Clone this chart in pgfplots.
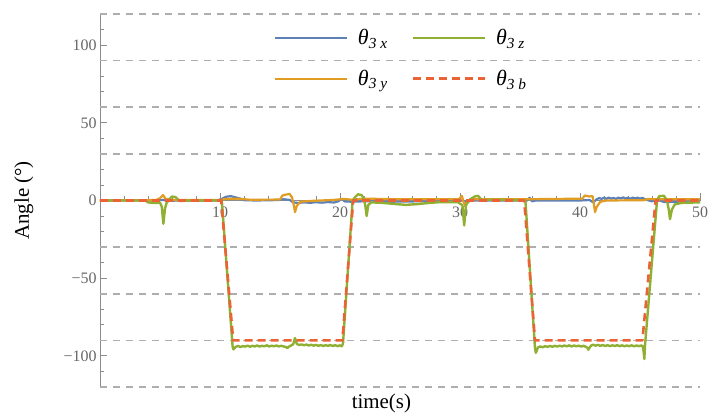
\documentclass[border=0pt]{standalone}
\usepackage{fontspec}
\setmainfont{Liberation Serif}
\usepackage{pgfplots}
\pgfplotsset{compat=1.18}
\definecolor{cx}{HTML}{5E81B5}
\definecolor{cy}{HTML}{E19C24}
\definecolor{cz}{HTML}{8FB032}
\definecolor{cb}{HTML}{EB6235}
\definecolor{axisgray}{HTML}{8C8C8C}
\definecolor{gridgray}{HTML}{AEAEAE}
\definecolor{labelgray}{HTML}{666666}
\begin{document}
\begin{tikzpicture}
\begin{axis}[
  scale only axis, width=600bp, height=373bp,
  xmin=0, xmax=50, ymin=-120, ymax=120,
  axis x line*=middle, axis y line*=left,
  axis line style={draw=axisgray, line width=0.9bp},
  every tick/.style={draw=axisgray, line width=0.9bp},
  tick align=inside,
  major tick length=7bp, minor tick length=4bp,
  xtick={10,20,30,40,50}, xticklabels={10,20,30,40,50},
  minor xtick={2,4,...,48},
  ytick={-100,-50,0,50,100}, yticklabels={−100,−50,0,50,100},
  minor ytick={-120,-110,...,120},
  extra y ticks={-120,-90,-60,-30,30,60,90,120},
  extra y tick labels={},
  extra y tick style={grid=major, major tick length=0pt,
    major grid style={gridgray, line width=1.6bp, dash pattern=on 7bp off 6bp}},
  ticklabel style={font=\fontsize{16}{16}\selectfont, text=labelgray},
  x tick label style={yshift=-3bp},
  every axis y label/.style={at={(axis description cs:-0.127,0.5)}, anchor=center, rotate=90, font=\fontsize{21}{21}\selectfont},
  every axis x label/.style={at={(axis description cs:0.469,-0.043)}, anchor=center, font=\fontsize{21}{21}\selectfont},
  ylabel={Angle (°)},
  xlabel={time(s)},
  legend columns=2,
  legend cell align=left,
  legend style={draw=none, fill=none, at={(axis description cs:0.502,0.881)}, anchor=center,
    font=\fontsize{22}{22}\selectfont, row sep=20bp,
    /tikz/every even column/.append style={column sep=22bp}},
  legend image code/.code={\draw[#1] (0bp,0bp) -- (72bp,0bp);},
  line join=round,
]
% theta_3x
\addplot[cx, line width=2.2bp, forget plot] coordinates {
(0,0) (3,0.2) (4.5,0) (5.3,0.4) (5.6,-0.3) (6.5,0) (9.8,0) (10.2,1.2) (10.5,2.4) (10.9,2.8) (11.3,2.0) (11.7,1.2) (12,0.2) (13,0)
(14.9,0.3) (15.3,0.8) (15.8,0.4) (16.1,-1.2) (16.5,-1.6) (17,-1.2) (17.5,-1.5) (18,-1.1) (18.5,-1.4) (19,-1.0) (19.5,-1.3)
(19.9,-0.4) (20.1,1.2) (20.4,-0.6) (21,-0.8) (22,-0.5) (24,-0.8) (26,-0.6) (28,-0.3) (30.2,0) (30.5,-1) (31,0) (35.6,0)
(35.8,1.8) (36,-0.5) (36.3,0) (40,0) (40.8,0.3) (41.1,-1.2) (41.4,0.8) (41.6,1.6) (41.8,1.0) (42.0,1.8) (42.2,1.1) (42.4,1.9)
(42.6,1.2) (42.8,1.7) (43.0,1.0) (43.2,1.9) (43.4,1.3) (43.6,2.0) (43.8,1.2) (44.0,1.8) (44.2,1.1) (44.4,1.9) (44.6,1.3)
(44.8,1.8) (45.0,1.2) (45.2,1.7) (45.5,0.5) (46,-0.5) (46.5,0.5) (47,-1) (48,-0.8) (50,-0.8)
};
% theta_3y
\addplot[cy, line width=2.2bp, forget plot] coordinates {
(0,0) (4.7,0.3) (5.0,1.5) (5.25,3.5) (5.45,1.2) (5.8,0.6) (6.5,0.3) (10,0.3) (10.5,1.0) (11.5,1.2) (12.5,0.5) (15.0,0.6)
(15.2,3.2) (15.5,3.8) (15.8,4.2) (16.0,2.0) (16.15,-3) (16.25,-7.5) (16.4,-3.5) (16.7,-0.8) (17.5,-0.3) (19.5,0.4) (20.3,1.0)
(21,0.5) (22,1.2) (25,0.8) (29.9,0.8) (30.15,3.0) (30.3,-1) (30.45,-3.5) (30.6,-0.5) (31,0.8) (35,0.8) (38,1.0) (40.2,1.2)
(40.4,3.2) (40.8,2.6) (41.05,2.8) (41.15,-2) (41.25,-7.5) (41.4,-4) (41.7,-0.8) (42.2,0) (45.3,0.2) (45.7,1.0) (46.2,0.8) (50,0.8)
};
% theta_3z
\addplot[cz, line width=2.4bp, forget plot] coordinates {
(0,0) (3.8,0) (4.0,-1.2) (4.5,-1.6) (5.0,-1.4) (5.15,-4) (5.28,-15) (5.42,-5) (5.55,-1.5) (5.8,1) (6.0,2.6) (6.3,2.2) (6.6,-0.3)
(7.5,0) (10.15,0) (11.05,-94) (11.12,-95.8)
(11.3,-94.2) (11.5,-93.6) (11.7,-94.3) (11.9,-93.7) (12.1,-94.0) (12.3,-93.4) (12.5,-94.1) (12.7,-93.5) (12.9,-93.9) (13.1,-93.3)
(13.3,-94.0) (13.5,-93.5) (13.7,-93.8) (13.9,-93.2) (14.1,-93.9) (14.3,-93.4) (14.5,-93.8) (14.7,-93.3) (14.9,-93.9) (15.1,-93.5)
(15.3,-93.9) (15.5,-94.3) (15.6,-95.0) (15.7,-94.2) (15.9,-93.4) (16.1,-92.5) (16.25,-88.5) (16.4,-92.3) (16.6,-93.0) (16.8,-92.6)
(17.0,-93.1) (17.2,-92.7) (17.4,-93.3) (17.6,-92.8) (17.8,-93.4) (18.0,-92.9) (18.2,-93.5) (18.4,-93.0) (18.6,-93.6) (18.8,-93.1)
(19.0,-93.5) (19.2,-93.0) (19.4,-93.6) (19.6,-93.1) (19.8,-93.7) (20.0,-93.2) (20.15,-93.8)
(20.25,-92) (21.05,0) (21.3,2.5) (21.5,4) (21.8,3.5) (22.0,1) (22.12,-4) (22.22,-10) (22.35,-3) (22.6,-1.2) (23.5,-1.5)
(24.5,-2.2) (25.5,-2.8) (26.5,-2.3) (27.5,-1.5) (28.5,-1) (29.8,-1) (30.2,-3) (30.35,-16) (30.5,-3) (30.8,0.5) (31.2,2.5)
(31.5,3) (31.8,0.5) (33,0.5) (35.45,0) (36.25,-95) (36.32,-98)
(36.5,-94.5) (36.7,-93.9) (36.9,-94.4) (37.1,-93.7) (37.3,-94.2) (37.5,-93.6) (37.7,-94.1) (37.9,-93.5) (38.1,-94.0) (38.3,-93.4)
(38.5,-93.9) (38.7,-93.3) (38.9,-93.8) (39.1,-93.2) (39.3,-93.9) (39.5,-93.3) (39.7,-93.8) (39.9,-93.4) (40.1,-94.0) (40.3,-93.5)
(40.5,-94.2) (40.62,-94.8) (40.7,-96.0) (40.8,-94.6) (40.95,-93.2) (41.1,-92.8) (41.3,-93.4) (41.5,-92.9) (41.7,-93.5) (41.9,-93.0)
(42.1,-93.6) (42.3,-93.1) (42.5,-93.7) (42.7,-93.2) (42.9,-93.6) (43.1,-93.1) (43.3,-93.7) (43.5,-93.2) (43.7,-93.8) (43.9,-93.3)
(44.1,-93.7) (44.3,-93.2) (44.5,-93.8) (44.7,-93.3) (44.9,-93.7) (45.1,-93.3) (45.22,-93.6)
(45.3,-97) (45.36,-102) (45.42,-93) (46.42,0) (46.6,2.8) (47.0,3) (47.25,0) (47.4,-6) (47.5,-12) (47.65,-6) (47.9,-2.5)
(48.5,-1.5) (50,-1.2)
};
% theta_3b
\addplot[cb, line width=2.6bp, dash pattern=on 8bp off 5bp, forget plot] coordinates {
(0,0) (10.1,0) (11.1,-90) (20.2,-90) (21.1,0) (35.35,0) (36.25,-90) (45.2,-90) (46.3,0) (50,0)
};
\addlegendimage{cx, line width=2.2bp}
\addlegendentry{\hspace{8bp}\itshape θ\textsubscript{3 x}}
\addlegendimage{cz, line width=2.2bp}
\addlegendentry{\hspace{8bp}\itshape θ\textsubscript{3 z}}
\addlegendimage{cy, line width=2.2bp}
\addlegendentry{\hspace{8bp}\itshape θ\textsubscript{3 y}}
\addlegendimage{cb, line width=2.6bp, dash pattern=on 8bp off 5bp}
\addlegendentry{\hspace{8bp}\itshape θ\textsubscript{3 b}}
\end{axis}
\pgfresetboundingbox
\path[use as bounding box] ([shift={(-100bp,-32bp)}]current axis.south west) rectangle ++(710bp,419bp);
\end{tikzpicture}
\end{document}
